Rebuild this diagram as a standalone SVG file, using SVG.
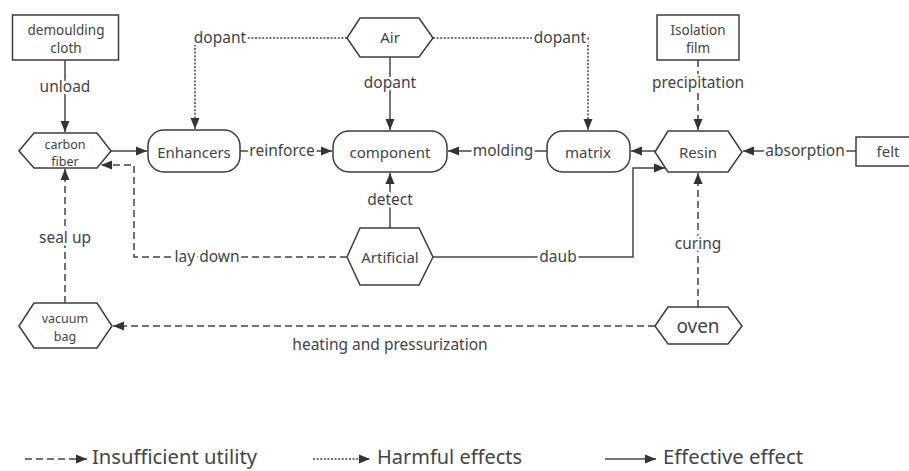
<svg xmlns="http://www.w3.org/2000/svg" width="909" height="471" viewBox="0 0 909 471">
<style>
.node{fill:#fff;stroke:#3a3d42;stroke-width:1.5}
text{font-family:"Noto Sans","Open Sans","DejaVu Sans",sans-serif;fill:#444;text-anchor:middle}
.nt{font-size:15px}
.sm{font-size:13.5px}
.hx{font-size:12.5px}
.lbl{font-size:15.5px;stroke:#fff;stroke-width:5;paint-order:stroke;stroke-linejoin:round}
.ln{fill:none;stroke:#444;stroke-width:1.5}
.dash{stroke-dasharray:7,4}
.dot{stroke-dasharray:2,1.6}
.arr{marker-end:url(#ah)}
.leg{font-size:19px;text-anchor:start}
</style>
<defs>
<marker id="ah" markerUnits="userSpaceOnUse" markerWidth="12" markerHeight="10" refX="11" refY="5" orient="auto">
<path d="M0,0.5 L11,5 L0,9.5 z" fill="#333"/>
</marker>
</defs>
<g id="connectors">
<path class="ln arr" d="M65,60 V132"/>
<path class="ln arr" d="M111,151 H147"/>
<path class="ln arr" d="M240,151 H332"/>
<path class="ln dot arr" d="M347,38 H195 V129"/>
<path class="ln dot arr" d="M433,38 H588 V130"/>
<path class="ln arr" d="M390,57 V130"/>
<path class="ln arr" d="M547,151 H448"/>
<path class="ln arr" d="M655,151 H631"/>
<path class="ln dash arr" d="M698,60 V130"/>
<path class="ln arr" d="M856,151 H743"/>
<path class="ln arr" d="M390,228 V173"/>
<path class="ln arr" d="M433,257 H633 V168 H665"/>
<path class="ln dash arr" d="M347,257 H134 V165 H101"/>
<path class="ln dash arr" d="M65,303 V169"/>
<path class="ln dash arr" d="M698,307 V173"/>
<path class="ln dash arr" d="M655,326 H113"/>
<text class="lbl" x="65" y="92">unload</text>
<text class="lbl" x="220" y="43">dopant</text>
<text class="lbl" x="390" y="88">dopant</text>
<text class="lbl" x="560" y="43">dopant</text>
<text class="lbl" x="698" y="88">precipitation</text>
<text class="lbl" x="282" y="156">reinforce</text>
<text class="lbl" x="503" y="156">molding</text>
<text class="lbl" x="805" y="156">absorption</text>
<text class="lbl" x="390" y="205">detect</text>
<text class="lbl" x="207" y="262">lay down</text>
<text class="lbl" x="558" y="262">daub</text>
<text class="lbl" x="65" y="243">seal up</text>
<text class="lbl" x="698" y="249">curing</text>
<text class="lbl" x="390" y="350">heating and pressurization</text>
</g>
<g id="demoulding-cloth">
<rect class="node" x="12.5" y="15" width="106" height="45"/>
<text class="sm" x="66" y="35">demoulding</text>
<text class="sm" x="66" y="53">cloth</text>
</g>
<g id="carbon-fiber">
<polygon class="node" points="19,151 34,133 97,133 111,151 97,168 34,168"/>
<text class="hx" x="65" y="148.5">carbon</text>
<text class="hx" x="65" y="165.5">fiber</text>
</g>
<g id="enhancers">
<rect class="node" x="148" y="130" width="92" height="42" rx="16" ry="16"/>
<text class="nt" x="194" y="158">Enhancers</text>
</g>
<g id="air">
<polygon class="node" points="347,38 360,18 419,18 433,38 419,57 360,57"/>
<text class="nt" x="390" y="43">Air</text>
</g>
<g id="component">
<rect class="node" x="333" y="131" width="114" height="41" rx="16" ry="16"/>
<text class="nt" x="390" y="158">component</text>
</g>
<g id="matrix">
<rect class="node" x="547" y="131" width="83" height="41" rx="16" ry="16"/>
<text class="nt" x="588" y="158">matrix</text>
</g>
<g id="resin">
<polygon class="node" points="655,152 668,131 728,131 742,152 728,172 668,172"/>
<text class="nt" x="698" y="158">Resin</text>
</g>
<g id="isolation-film">
<rect class="node" x="657" y="15" width="82" height="45"/>
<text class="sm" x="698" y="35">Isolation</text>
<text class="sm" x="698" y="53">film</text>
</g>
<g id="felt">
<rect class="node" x="856" y="137" width="66" height="29"/>
<text class="nt" x="888" y="157">felt</text>
</g>
<g id="artificial">
<polygon class="node" points="347,257 360,228 419,228 433,257 419,285 360,285"/>
<text class="nt" x="390" y="263">Artificial</text>
</g>
<g id="vacuum-bag">
<polygon class="node" points="19,326 34,303 97,303 112,326 97,348 34,348"/>
<text class="hx" x="65" y="322.5">vacuum</text>
<text class="hx" x="65" y="340.5">bag</text>
</g>
<g id="oven">
<polygon class="node" points="655,326 668,307 728,307 742,326 728,344 668,344"/>
<text x="698" y="333" style="font-size:19px">oven</text>
</g>
<g id="legend">
<path class="ln dash arr" d="M25,459 H87"/>
<text class="leg" x="92" y="464" textLength="165" lengthAdjust="spacingAndGlyphs">Insufficient utility</text>
<path class="ln dot arr" d="M313,459 H370"/>
<text class="leg" x="377" y="464" textLength="145" lengthAdjust="spacingAndGlyphs">Harmful effects</text>
<path class="ln arr" d="M605,459 H656"/>
<text class="leg" x="663" y="464" textLength="140" lengthAdjust="spacingAndGlyphs">Effective effect</text>
</g>
</svg>
